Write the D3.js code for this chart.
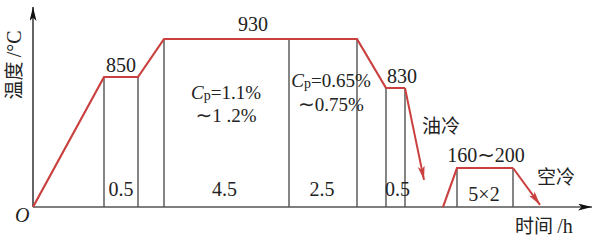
<!DOCTYPE html>
<html><head><meta charset="utf-8">
<script src="https://cdn.jsdelivr.net/npm/d3@7"></script>
<style>
html,body{margin:0;padding:0;background:#fff;}
svg{display:block;}
</style></head>
<body>
<svg id="c" width="600" height="243"></svg>
<script>
// schematic process data (time in schematic hours, temperature in °C)
const heatTimes = [0, 1, 1.5, 2, 6.5, 9, 9.5, 10];
const heatTemps = [0, 850, 850, 930, 930, 930, 830, 830];
const quenchEnd = {t: 10.5, T: 125};
const temperTimes = [11.5, 12, 22];
const temperTemps = [0, 180, 180];
const airCoolEnd = {t: 22.5, T: 10};
const holdSpans = [[1, 1.5], [2, 6.5], [6.5, 9], [9.5, 10], [12, 22]];
const holdLabels = ["0.5", "4.5", "2.5", "0.5", "5×2"];
const dividerTimes = [1, 1.5, 2, 6.5, 9, 9.5, 10, 12, 22];
const tempLabels = ["850", "930", "830", "160～200"];

const SERIF = "'Liberation Serif','Times New Roman',Times,'DejaVu Serif',serif";
const CJK = "'Noto Sans CJK SC','Noto Sans CJK JP',sans-serif";
const TILDE = "'DejaVu Sans',sans-serif";

const svg = d3.select("#c");
const red = "#c9403f";

// piecewise (schematic) scales
const x = d3.scaleLinear()
  .domain([0, 1, 1.5, 2, 6.5, 9, 9.5, 10, 10.5, 11.5, 12, 22, 22.5, 24])
  .range([33, 104, 138, 164, 289, 357, 386, 405, 424, 443, 457, 513, 540, 592]);
const y = d3.scaleLinear()
  .domain([0, 180, 830, 850, 930, 1000])
  .range([207, 168, 88, 77, 39, 7]);

const defs = svg.append("defs");
function marker(id, color, w, h) {
  defs.append("marker").attr("id", id)
    .attr("viewBox", "0 0 20 10").attr("refX", 20).attr("refY", 5)
    .attr("markerUnits", "userSpaceOnUse")
    .attr("markerWidth", w).attr("markerHeight", h).attr("orient", "auto")
    .append("path").attr("d", "M0,0 L20,5 L0,10 L5,5 Z").attr("fill", color);
}
marker("arB", "#111", 16, 7);
marker("arR", red, 14, 8);

// vertical divider lines
const tempAt = t => {
  const i = heatTimes.indexOf(t);
  if (i >= 0) return heatTemps[i];
  return temperTemps[temperTimes.indexOf(t)];
};
svg.append("g").selectAll("line").data(dividerTimes).join("line")
  .attr("x1", d => x(d)).attr("x2", d => x(d))
  .attr("y1", d => y(tempAt(d))).attr("y2", y(0))
  .attr("stroke", "#222").attr("stroke-width", 1.1);

// axes
svg.append("line").attr("x1", x(0)).attr("x2", x(0)).attr("y1", y(0)).attr("y2", y(1000))
  .attr("stroke", "#111").attr("stroke-width", 1.3).attr("marker-end", "url(#arB)");
svg.append("line").attr("x1", x(0)).attr("x2", x(24)).attr("y1", y(0)).attr("y2", y(0))
  .attr("stroke", "#555").attr("stroke-width", 1.5).attr("marker-end", "url(#arB)");

// process curves
const line = d3.line().x(d => x(d[0])).y(d => y(d[1]));
svg.append("path").datum(d3.zip(heatTimes, heatTemps)).attr("d", line)
  .attr("fill", "none").attr("stroke", red).attr("stroke-width", 2.2);
svg.append("path").datum([[heatTimes[heatTimes.length-1], heatTemps[heatTemps.length-1]], [quenchEnd.t, quenchEnd.T]])
  .attr("d", line).attr("fill", "none").attr("stroke", red).attr("stroke-width", 2).attr("marker-end", "url(#arR)");
svg.append("path").datum(d3.zip(temperTimes, temperTemps)).attr("d", line)
  .attr("fill", "none").attr("stroke", red).attr("stroke-width", 2.2);
svg.append("path").datum([[temperTimes[2], temperTemps[2]], [airCoolEnd.t, airCoolEnd.T]])
  .attr("d", line).attr("fill", "none").attr("stroke", red).attr("stroke-width", 2).attr("marker-end", "url(#arR)");

function num(sel, fs) {
  return sel.attr("font-family", SERIF).attr("font-size", fs || 20).attr("fill", "#222");
}
function cjk(sel) {
  return sel.attr("font-family", CJK).attr("font-size", 19).attr("fill", "#222");
}
// write text, drawing the wave dash as a wide tilde
function withTilde(t, s, fs) {
  s.split(/(～)/).filter(p => p).forEach(p => {
    if (p === "～") t.append("tspan").attr("font-family", TILDE).attr("font-size", fs || 20).text("∼");
    else t.append("tspan").text(p);
  });
  return t;
}

// hold duration labels
num(svg.append("g").selectAll("text").data(holdSpans).join("text"))
  .attr("text-anchor", "middle")
  .attr("x", (d, i) => (x(d[0]) + x(d[1])) / 2 + [0, -2, -1, 2, -1][i])
  .attr("y", (d, i) => i === 4 ? 201 : 196)
  .text((d, i) => holdLabels[i]);

// temperature labels
const tPos = [[121, 72], [253, 31], [402, 83], [486, 162]];
svg.append("g").selectAll("text").data(tempLabels).join("text")
  .each(function(d, i) {
    const t = num(d3.select(this)).attr("text-anchor", "middle")
      .attr("x", tPos[i][0]).attr("y", tPos[i][1]);
    withTilde(t, d, 21);
  });

// carbon potential labels
function cp(cx, by, val, range, gap) {
  const t = num(svg.append("text"), 19).attr("text-anchor", "middle").attr("x", cx).attr("y", by);
  t.append("tspan").attr("font-style", "italic").text("C");
  t.append("tspan").attr("dy", 1).attr("font-size", 14).text("p");
  t.append("tspan").attr("dy", -1).text("=" + val);
  withTilde(num(svg.append("text"), 19).attr("text-anchor", "middle").attr("x", cx).attr("y", by + gap), range, 20);
}
cp(226, 99, "1.1%", "～1 .2%", 23);
cp(331, 87, "0.65%", "～0.75%", 24);

// other text
cjk(svg.append("text")).attr("x", 422).attr("y", 133).text("油冷");
cjk(svg.append("text")).attr("x", 537).attr("y", 184).text("空冷");
const xl = cjk(svg.append("text")).attr("x", 515).attr("y", 233).text("时间 ");
xl.append("tspan").attr("font-family", SERIF).attr("font-size", 20).text("/h");
num(svg.append("text")).attr("font-style", "italic").attr("x", 15).attr("y", 222).text("O");
const yl = cjk(svg.append("text")).attr("text-anchor", "middle")
  .attr("transform", "translate(21,65) rotate(-90)").text("温度 ");
yl.append("tspan").attr("font-family", SERIF).attr("font-size", 20).text("/°C");
</script>
</body></html>
